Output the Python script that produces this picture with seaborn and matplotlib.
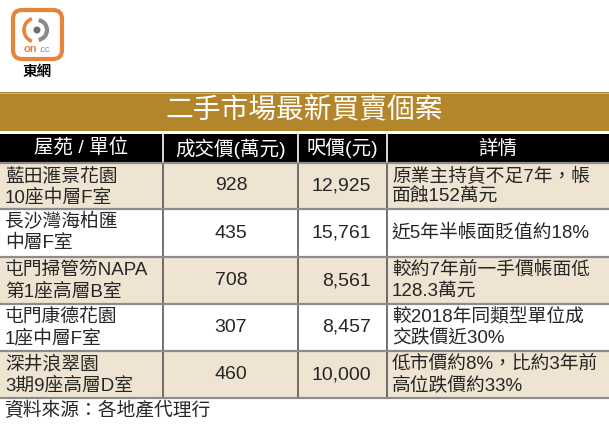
import numpy as np
import pandas as pd
import seaborn as sns
import matplotlib.pyplot as plt
from matplotlib.patches import FancyBboxPatch, Rectangle, Arc, Circle
from matplotlib.colors import ListedColormap

sns.set_theme(style="white")
plt.rcParams['font.family'] = ['Liberation Sans', 'Noto Sans CJK TC']

# table content
title = "二手市場最新買賣個案"
headers = ["屋苑 / 單位", "成交價(萬元)", "呎價(元)", "詳情"]
estates = ["藍田滙景花園\n10座中層F室",
           "長沙灣海柏匯\n中層F室",
           "屯門掃管笏NAPA\n第1座高層B室",
           "屯門康德花園\n1座中層F室",
           "深井浪翠園\n3期9座高層D室"]
prices = [928, 435, 708, 307, 460]
per_ft = [12925, 15761, 8561, 8457, 10000]
details = ["原業主持貨不足7年，帳\n面蝕152萬元",
           "近5年半帳面貶值約18%",
           "較約7年前一手價帳面低\n128.3萬元",
           "較2018年同類型單位成\n交跌價近30%",
           "低市價約8%，比約3年前\n高位跌價約33%"]
source = "資料來源：各地產代理行"

# layout (pixels)
W, H = 609, 429
col_edges = [0, 163, 298, 387, 609]
row_edges = [163, 209, 257, 304, 351, 398]
gold = '#B3862C'
beige = '#EFE4D1'

fig = plt.figure(figsize=(W / 100, H / 100), dpi=100)

# striped body background via heatmap
bx = fig.add_axes([0, (H - row_edges[-1]) / H, 1, (row_edges[-1] - row_edges[0]) / H])
stripes = pd.DataFrame({'bg': [1 - i % 2 for i in range(len(estates))]})
sns.heatmap(stripes, ax=bx, cmap=ListedColormap(['white', beige]), cbar=False,
            xticklabels=False, yticklabels=False, vmin=0, vmax=1)
bx.axis('off')

ax = fig.add_axes([0, 0, 1, 1])
ax.set_xlim(0, W)
ax.set_ylim(H, 0)
ax.axis('off')
ax.patch.set_alpha(0)

# logo
ax.add_patch(FancyBboxPatch((13, 10), 49, 49, boxstyle="round,pad=0,rounding_size=9",
                            fc='white', ec='#E8843A', lw=3))
ax.add_patch(Arc((36, 30), 24, 24, theta1=110, theta2=250, color='#E8843A', lw=2.6))
ax.add_patch(Arc((37, 30), 20, 20, theta1=-80, theta2=80, color='#8A8A8A', lw=3))
ax.add_patch(Circle((37, 30), 2.8, color='#6E6E6E'))
ax.text(30.5, 49.5, "on", color='#E8843A', fontsize=8, fontweight='bold', ha='center', va='center')
ax.text(44, 50, ".cc", color='#8A8A8A', fontsize=6.5, ha='center', va='center')
ax.text(37, 72, "東網", color='black', fontsize=10.5, fontweight='bold', ha='center', va='center')

# title band
ax.add_patch(Rectangle((0, 92), W, 39, fc=gold, ec='none'))
ax.plot([0, W], [92.5, 92.5], color='#D2B06E', lw=0.8)
ax.text(W / 2, 111.5, title, color='white', fontsize=20, ha='center', va='center')

# header row
ax.add_patch(Rectangle((0, 134), W, row_edges[0] - 134, fc='black', ec='none'))
for i, h in enumerate(headers):
    cx = (col_edges[i] + col_edges[i + 1]) / 2
    ax.text(cx, 148.5, h, color='white', fontsize=14, ha='center', va='center')
for x in col_edges[1:-1]:
    ax.plot([x, x], [134, row_edges[0]], color='white', lw=1.2)

# body lines
for x in col_edges[1:-1]:
    ax.plot([x, x], [row_edges[0], row_edges[-1]], color='#4A4A4A', lw=1.1)
for y in row_edges:
    ax.plot([0, W], [y, y], color='#8C8C8C', lw=1.6)


def cell_lines(txt, x, top, bottom, ha):
    lines = txt.split('\n')
    if len(lines) == 1:
        ax.text(x, (top + bottom) / 2, lines[0], fontsize=13.5, ha=ha, va='center')
    else:
        ax.text(x, top + 13.5, lines[0], fontsize=13.5, ha=ha, va='center')
        ax.text(x, top + 34.5, lines[1], fontsize=13.5, ha=ha, va='center')


for r in range(len(estates)):
    top, bottom = row_edges[r], row_edges[r + 1]
    mid = (top + bottom) / 2
    cell_lines(estates[r], 5, top, bottom, 'left')
    ax.text(231, mid, f"{prices[r]}", fontsize=14, ha='center', va='center')
    ax.text(371, mid, f"{per_ft[r]:,}", fontsize=14, ha='right', va='center')
    cell_lines(details[r], 392, top, bottom, 'left')

ax.text(4, 411, source, fontsize=13.5, ha='left', va='center')

fig.savefig('out.png', dpi=100)
